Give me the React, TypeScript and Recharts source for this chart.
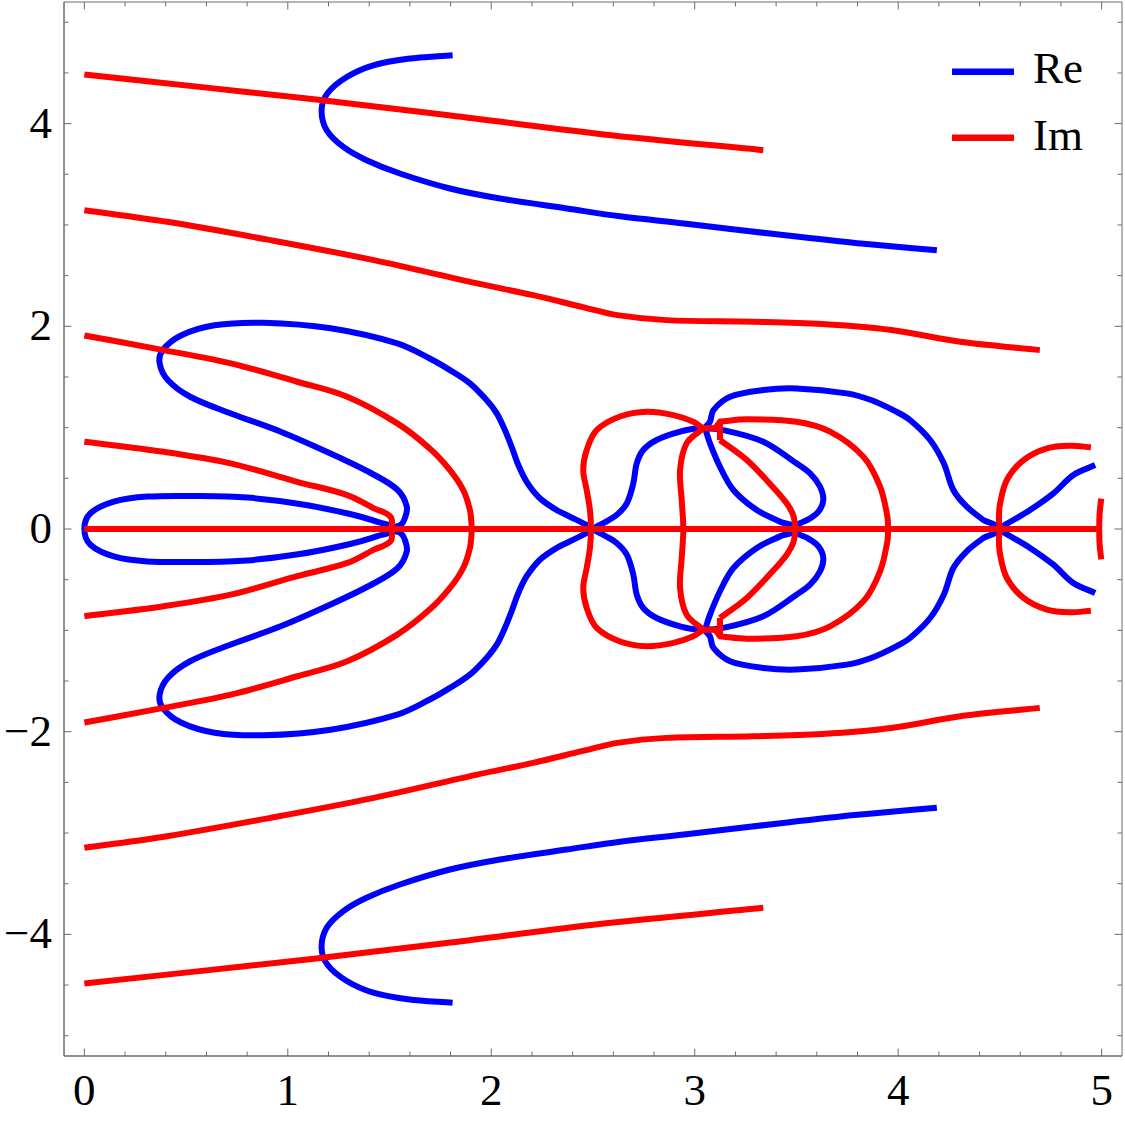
import React from 'react';
import { LineChart, Line, XAxis, YAxis, ReferenceArea, Legend } from 'recharts';

type P = [number, number];

// contour of Re = 0 (blue)
const blueTop: P[] = [[1.81, 4.675], [1.59, 4.64], [1.42, 4.575], [1.29, 4.46], [1.195, 4.3], [1.166, 4.132], [1.191, 3.935], [1.273, 3.77], [1.387, 3.639], [1.551, 3.508], [1.797, 3.36], [2.043, 3.261], [2.371, 3.163], [2.633, 3.085], [2.946, 3.015], [3.456, 2.895], [3.8, 2.82], [4.19, 2.75]];
const blueBottom: P[] = [[1.81, -4.675], [1.59, -4.64], [1.42, -4.575], [1.29, -4.46], [1.195, -4.3], [1.166, -4.132], [1.191, -3.935], [1.273, -3.77], [1.387, -3.639], [1.551, -3.508], [1.797, -3.36], [2.043, -3.261], [2.371, -3.163], [2.633, -3.085], [2.946, -3.015], [3.456, -2.895], [3.8, -2.82], [4.19, -2.75]];
const blueInner: P[] = [[0, 0], [0.03, 0.155], [0.145, 0.27], [0.31, 0.32], [0.555, 0.325], [0.8, 0.31], [1.05, 0.25], [1.29, 0.155], [1.44, 0.07], [1.51, 0], [1.44, -0.07], [1.29, -0.155], [1.05, -0.25], [0.8, -0.31], [0.555, -0.325], [0.31, -0.32], [0.145, -0.27], [0.03, -0.155], [0, 0]];
const blueOuterLeft: P[] = [[1.51, 0], [1.555, 0.04], [1.575, 0.105], [1.585, 0.22], [1.54, 0.385], [1.41, 0.55], [1.21, 0.745], [0.965, 0.96], [0.72, 1.14], [0.52, 1.305], [0.41, 1.47], [0.37, 1.635], [0.385, 1.765], [0.475, 1.91], [0.64, 2.01], [0.88, 2.035], [1.21, 1.98], [1.538, 1.831], [1.7, 1.68], [1.797, 1.568], [1.895, 1.437], [1.977, 1.272], [2.027, 1.141], [2.067, 0.976], [2.1, 0.812], [2.133, 0.631], [2.174, 0.466], [2.239, 0.303], [2.321, 0.187], [2.387, 0.121], [2.452, 0.056], [2.49, 0],
  [2.452, -0.056], [2.387, -0.121], [2.321, -0.187], [2.239, -0.303], [2.174, -0.466], [2.133, -0.631], [2.1, -0.812], [2.067, -0.976], [2.027, -1.141], [1.977, -1.272], [1.895, -1.437], [1.797, -1.568], [1.7, -1.68], [1.538, -1.831], [1.21, -1.98], [0.88, -2.035], [0.64, -2.01], [0.475, -1.91], [0.385, -1.765], [0.37, -1.635], [0.41, -1.47], [0.52, -1.305], [0.72, -1.14], [0.965, -0.96], [1.21, -0.745], [1.41, -0.55], [1.54, -0.385], [1.585, -0.22], [1.575, -0.105], [1.555, -0.04], [1.51, 0]];
const blueMidLoop: P[] = [[2.51, 0], [2.55, 0.056], [2.616, 0.138], [2.666, 0.253], [2.698, 0.45], [2.715, 0.648], [2.747, 0.779], [2.813, 0.878], [2.928, 0.96], [3.026, 0.993], [3.14, 0.976], [3.337, 0.861], [3.5, 0.648], [3.567, 0.549], [3.616, 0.417], [3.632, 0.286], [3.608, 0.171], [3.559, 0.095], [3.5, 0.039], [3.49, 0],
  [3.5, -0.039], [3.559, -0.095], [3.608, -0.171], [3.632, -0.286], [3.616, -0.417], [3.567, -0.549], [3.5, -0.648], [3.337, -0.861], [3.14, -0.976], [3.026, -0.993], [2.928, -0.96], [2.813, -0.878], [2.747, -0.779], [2.715, -0.648], [2.698, -0.45], [2.666, -0.253], [2.616, -0.138], [2.55, -0.056], [2.51, 0]];
const blueMidInner: P[] = [[3.05, 1.0], [3.075, 0.845], [3.124, 0.614], [3.19, 0.385], [3.305, 0.187], [3.42, 0.072], [3.49, 0], [3.42, -0.072], [3.305, -0.187], [3.19, -0.385], [3.124, -0.614], [3.075, -0.845], [3.05, -1.0]];
const blueRightBig: P[] = [[3.05, 1.0], [3.075, 1.06], [3.092, 1.174], [3.174, 1.305], [3.337, 1.371], [3.5, 1.387], [3.747, 1.338], [3.87, 1.27], [3.993, 1.155], [4.058, 1.075], [4.157, 0.878], [4.224, 0.648], [4.271, 0.385], [4.337, 0.22], [4.419, 0.089], [4.49, 0],
  [4.419, -0.089], [4.337, -0.22], [4.271, -0.385], [4.224, -0.648], [4.157, -0.878], [4.058, -1.075], [3.993, -1.155], [3.87, -1.27], [3.747, -1.338], [3.5, -1.387], [3.337, -1.371], [3.174, -1.305], [3.092, -1.174], [3.075, -1.06], [3.05, -1.0]];
const blueRightUp: P[] = [[4.49, 0], [4.566, 0.089], [4.648, 0.187], [4.763, 0.352], [4.861, 0.533], [4.968, 0.631]];
const blueRightDown: P[] = [[4.49, 0], [4.566, -0.089], [4.648, -0.187], [4.763, -0.352], [4.861, -0.533], [4.968, -0.631]];

// contour of Im = 0 (red)
const redTopHi: P[] = [[0, 4.484], [0.6, 4.355], [1.169, 4.231], [1.8, 4.08], [2.554, 3.893], [3.337, 3.738]];
const redTopLo: P[] = [[0, -4.484], [0.6, -4.355], [1.169, -4.231], [1.8, -4.08], [2.554, -3.893], [3.337, -3.738]];
const redUpperHi: P[] = [[0, 3.146], [0.407, 3.031], [0.915, 2.85], [1.423, 2.653], [1.931, 2.423], [2.2, 2.31], [2.45, 2.19], [2.62, 2.11], [2.861, 2.061], [3.286, 2.045], [3.626, 2.022], [3.966, 1.963], [4.305, 1.847], [4.696, 1.765]];
const redUpperLo: P[] = [[0, -3.146], [0.407, -3.031], [0.915, -2.85], [1.423, -2.653], [1.931, -2.423], [2.2, -2.31], [2.45, -2.19], [2.62, -2.11], [2.861, -2.061], [3.286, -2.045], [3.626, -2.022], [3.966, -1.963], [4.305, -1.847], [4.696, -1.765]];
const redA: P[] = [[0, 1.91], [0.39, 1.765], [0.72, 1.634], [1.046, 1.453], [1.292, 1.305], [1.538, 1.042], [1.7, 0.79], [1.797, 0.582], [1.862, 0.385], [1.895, 0.187], [1.904, 0.02], [1.904, -0.02], [1.895, -0.187], [1.862, -0.385], [1.797, -0.582], [1.7, -0.79], [1.538, -1.042], [1.292, -1.305], [1.046, -1.453], [0.72, -1.634], [0.39, -1.765], [0, -1.91]];
const redB: P[] = [[0, 0.861], [0.39, 0.762], [0.719, 0.648], [1.046, 0.466], [1.292, 0.335], [1.423, 0.204], [1.505, 0.121], [1.51, 0], [1.505, -0.121], [1.423, -0.204], [1.292, -0.335], [1.046, -0.466], [0.719, -0.648], [0.39, -0.762], [0, -0.861]];
const redAxis: P[] = [[0, 0], [5.0, 0]];
const redMidLeftLoop: P[] = [[3.042, 0.993], [2.993, 1.058], [2.895, 1.124], [2.764, 1.157], [2.633, 1.11], [2.518, 0.976], [2.469, 0.779], [2.452, 0.582], [2.469, 0.385], [2.485, 0.187], [2.49, 0], [2.485, -0.187], [2.469, -0.385], [2.452, -0.582], [2.469, -0.779], [2.518, -0.976], [2.633, -1.11], [2.764, -1.157], [2.895, -1.124], [2.993, -1.058], [3.042, -0.993]];
const redMidRightLoop: P[] = [[3.124, 1.058], [3.256, 1.082], [3.5, 1.058], [3.665, 0.96], [3.829, 0.713], [3.911, 0.417], [3.947, 0.121], [3.95, 0], [3.947, -0.121], [3.911, -0.417], [3.829, -0.713], [3.665, -0.96], [3.5, -1.058], [3.256, -1.082], [3.124, -1.058]];
const redKinkTop: P[] = [[3.042, 0.993], [3.1, 0.993], [3.124, 1.058], [3.124, 0.878]];
const redKinkBottom: P[] = [[3.042, -0.993], [3.1, -0.993], [3.124, -1.058], [3.124, -0.878]];
const redMidVert: P[] = [[3.042, 0.993], [2.96, 0.845], [2.928, 0.582], [2.936, 0.286], [2.944, 0], [2.936, -0.286], [2.928, -0.582], [2.96, -0.845], [3.042, -0.993]];
const redMidDiag: P[] = [[3.124, 0.878], [3.256, 0.68], [3.386, 0.41], [3.452, 0.253], [3.485, 0.13], [3.493, 0], [3.485, -0.13], [3.452, -0.253], [3.386, -0.41], [3.256, -0.68], [3.124, -0.878]];
const redRightLoop: P[] = [[4.947, 0.806], [4.845, 0.822], [4.731, 0.796], [4.616, 0.68], [4.534, 0.483], [4.501, 0.253], [4.495, 0.1], [4.5, 0], [4.495, -0.1], [4.501, -0.253], [4.534, -0.483], [4.616, -0.68], [4.731, -0.796], [4.845, -0.822], [4.947, -0.806]];
const redEdgeArc: P[] = [[4.998, 0.3], [4.99, 0.15], [4.988, 0], [4.99, -0.15], [4.998, -0.3]];

const xTicks = [0, 0.2, 0.4, 0.6, 0.8, 1, 1.2, 1.4, 1.6, 1.8, 2, 2.2, 2.4, 2.6, 2.8, 3, 3.2, 3.4, 3.6, 3.8, 4, 4.2, 4.4, 4.6, 4.8, 5];
const xLabels = [0, 1, 2, 3, 4, 5];
const yTicks = [-5, -4.5, -4, -3.5, -3, -2.5, -2, -1.5, -1, -0.5, 0, 0.5, 1, 1.5, 2, 2.5, 3, 3.5, 4, 4.5, 5];
const yLabels = [-4, -2, 0, 2, 4];

const FRAME = '#6b6b6b';
const BLUE = '#0000ff';
const RED = '#ff0000';
const FONT = '"Liberation Serif", "Times New Roman", serif';
const LW = 6;
const PLOT_W = 1058;
const PLOT_H = 1054;

const blueSeries = [blueTop, blueBottom, blueInner, blueOuterLeft, blueMidLoop, blueMidInner, blueRightBig, blueRightUp, blueRightDown];
const redSmooth = [redTopHi, redTopLo, redUpperHi, redUpperLo, redA, redB, redMidLeftLoop, redMidRightLoop, redMidVert, redMidDiag, redRightLoop, redEdgeArc];
const redSharp = [redAxis, redKinkTop, redKinkBottom];

const toPts = (a: P[]) => a.map(([x, y]) => ({ x, y }));

// smooth curve through the points (tangent from neighbours, handles scaled to segment length)
const smoothCurve = (context: any) => {
  let pts: number[][] = [];
  return {
    areaStart() {},
    areaEnd() {},
    lineStart() { pts = []; },
    point(x: number, y: number) { pts.push([+x, +y]); },
    lineEnd() {
      const n = pts.length;
      if (!n) return;
      context.moveTo(pts[0][0], pts[0][1]);
      const closed = n > 3 && Math.hypot(pts[0][0] - pts[n - 1][0], pts[0][1] - pts[n - 1][1]) < 0.5;
      const dir = (a: number[], b: number[]) => {
        const dx = b[0] - a[0], dy = b[1] - a[1];
        const l = Math.hypot(dx, dy) || 1;
        return [dx / l, dy / l];
      };
      for (let i = 0; i < n - 1; i++) {
        const p1 = pts[i], p2 = pts[i + 1];
        const p0 = i > 0 ? pts[i - 1] : closed ? pts[n - 2] : p1;
        const p3 = i < n - 2 ? pts[i + 2] : closed ? pts[1] : p2;
        const d = Math.hypot(p2[0] - p1[0], p2[1] - p1[1]) / 3;
        const t1 = dir(p0, p2);
        const t2 = dir(p1, p3);
        context.bezierCurveTo(p1[0] + t1[0] * d, p1[1] + t1[1] * d, p2[0] - t2[0] * d, p2[1] - t2[1] * d, p2[0], p2[1]);
      }
    },
  };
};

const BottomTick = (props: any) => {
  const { x, y, payload } = props;
  const major = xLabels.includes(payload.value);
  const len = major ? 7.5 : 4.5;
  return (
    <g>
      <line x1={x} x2={x} y1={y} y2={y - len} stroke={FRAME} strokeWidth={1} />
      <line x1={x} x2={x} y1={y - PLOT_H} y2={y - PLOT_H + len} stroke={FRAME} strokeWidth={1} />
      {major && (
        <text x={x} y={y + 49} textAnchor="middle" fontSize={45} fontFamily={FONT} fill="#000">
          {payload.value}
        </text>
      )}
    </g>
  );
};

const LeftTick = (props: any) => {
  const { x, y, payload } = props;
  const v = payload.value;
  const major = yLabels.includes(v);
  const len = major ? 7.5 : 4.5;
  return (
    <g>
      <line x1={x} x2={x + len} y1={y} y2={y} stroke={FRAME} strokeWidth={1} />
      <line x1={x + PLOT_W} x2={x + PLOT_W - len} y1={y} y2={y} stroke={FRAME} strokeWidth={1} />
      {major && (
        <text x={x - 12} y={y + 14} textAnchor="end" fontSize={45} fontFamily={FONT} fill="#000">
          {v < 0 ? `\u2212${-v}` : v}
        </text>
      )}
    </g>
  );
};

const LegendBox = () => (
  <svg width={170} height={140} style={{ display: 'block' }}>
    <line x1={7} x2={69} y1={41.7} y2={41.7} stroke={BLUE} strokeWidth={6.5} />
    <text x={88} y={53.3} fontSize={45} fontFamily={FONT} fill="#000">Re</text>
    <line x1={7} x2={69} y1={107.7} y2={107.7} stroke={RED} strokeWidth={6.5} />
    <text x={88} y={120} fontSize={45} fontFamily={FONT} fill="#000">Im</text>
  </svg>
);

export default function App() {
  return (
    <div style={{ position: 'absolute', left: 0, top: 0, background: '#fff' }}>
      <LineChart width={1125} height={1121} margin={{ top: 2, right: 3, bottom: 0, left: 0 }}>
        <XAxis
          type="number"
          dataKey="x"
          domain={[-0.1, 5.1]}
          allowDataOverflow
          ticks={xTicks}
          interval={0}
          height={65}
          tickSize={0}
          tickMargin={0}
          tickLine={false}
          axisLine={{ stroke: FRAME }}
          tick={BottomTick}
        />
        <YAxis
          type="number"
          domain={[-5.2, 5.2]}
          allowDataOverflow
          ticks={yTicks}
          interval={0}
          width={64}
          tickSize={0}
          tickMargin={0}
          tickLine={false}
          axisLine={{ stroke: FRAME }}
          tick={LeftTick}
        />
        <ReferenceArea x1={-0.1} x2={5.1} y1={-5.2} y2={5.2} fill="none" fillOpacity={0} stroke={FRAME} strokeWidth={1} />
        {blueSeries.map((s, i) => (
          <Line key={`b${i}`} data={toPts(s)} dataKey="y" type={smoothCurve as any} stroke={BLUE} strokeWidth={LW}
            strokeLinejoin="round" dot={false} activeDot={false} legendType="none" isAnimationActive={false} />
        ))}
        {redSmooth.map((s, i) => (
          <Line key={`r${i}`} data={toPts(s)} dataKey="y" type={smoothCurve as any} stroke={RED} strokeWidth={LW}
            strokeLinejoin="round" dot={false} activeDot={false} legendType="none" isAnimationActive={false} />
        ))}
        {redSharp.map((s, i) => (
          <Line key={`k${i}`} data={toPts(s)} dataKey="y" type="linear" stroke={RED} strokeWidth={LW}
            strokeLinejoin="round" dot={false} activeDot={false} legendType="none" isAnimationActive={false} />
        ))}
        <Legend layout="horizontal" verticalAlign="middle" align="center"
          wrapperStyle={{ top: 30, left: 945, width: 170, height: 140 }}
          content={() => <LegendBox />} />
      </LineChart>
    </div>
  );
}
